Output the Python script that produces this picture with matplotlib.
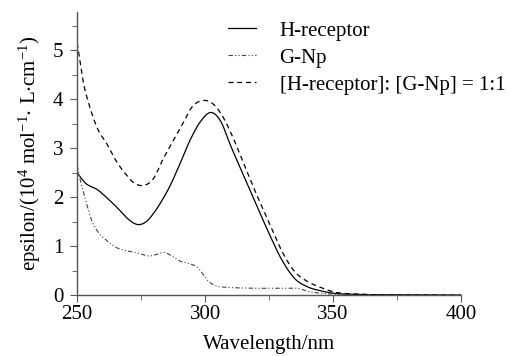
import numpy as np
import matplotlib
matplotlib.use("Agg")
import matplotlib.pyplot as plt
from matplotlib.ticker import MultipleLocator

plt.rcParams['font.family'] = ['Liberation Serif', 'DejaVu Serif']
plt.rcParams['mathtext.fontset'] = 'custom'
plt.rcParams['mathtext.rm'] = 'Liberation Serif'
plt.rcParams['mathtext.default'] = 'regular'

# H-receptor (solid)
wl_h = [250, 253, 258, 262, 266.7, 270, 274, 277, 280, 283, 286, 290, 294, 298, 302.5,
        306, 310, 315, 320, 325, 330, 335, 340, 345, 350, 360, 380, 400]
eps_h = [2.5, 2.3, 2.15, 1.97, 1.73, 1.55, 1.44, 1.5, 1.68, 1.92, 2.2, 2.66, 3.15, 3.53, 3.73,
         3.56, 3.05, 2.45, 1.85, 1.26, 0.72, 0.34, 0.17, 0.09, 0.04, 0.015, 0.005, 0.0]

# G-Np (dash-dot-dot)
wl_g = [250, 251, 253, 255.5, 258, 261.5, 265, 268, 272, 275, 278, 281, 284, 287,
        290, 294, 297, 299, 301, 303, 305, 308, 312, 320, 330, 337, 340, 345, 350, 370, 400]
eps_g = [2.65, 2.4, 2.0, 1.55, 1.3, 1.12, 0.98, 0.92, 0.88, 0.84, 0.8, 0.83, 0.87, 0.8,
         0.7, 0.64, 0.57, 0.44, 0.3, 0.22, 0.18, 0.16, 0.15, 0.14, 0.14, 0.13, 0.08, 0.04, 0.02, 0.01, 0.0]

# [H-receptor]:[G-Np] = 1:1 (dashed)
wl_m = [250, 251.3, 252.6, 254.6, 257.8, 261.7, 265.6, 269, 272, 275.8, 279.7, 283.6, 287.5,
        291.4, 294.7, 298.6, 303, 306.4, 310.3, 315, 320, 325, 330, 335, 340, 345, 350, 360, 380, 400]
eps_m = [5.15, 4.71, 4.3, 3.9, 3.42, 3.08, 2.71, 2.47, 2.3, 2.24, 2.37, 2.78, 3.15,
         3.51, 3.83, 3.97, 3.91, 3.69, 3.29, 2.7, 2.07, 1.48, 0.9, 0.48, 0.28, 0.16, 0.07, 0.02, 0.005, 0.0]

labels = ['H-receptor', 'G-Np', '[H-receptor]: [G-Np] = 1:1']


def smooth(x, y, n=600):
    # cubic Hermite through the read points
    xs = np.linspace(x[0], x[-1], n)
    x = np.asarray(x, float)
    y = np.asarray(y, float)
    ys = np.empty_like(xs)
    m = np.gradient(y, x)
    for k, xv in enumerate(xs):
        i = min(np.searchsorted(x, xv, side='right') - 1, len(x) - 2)
        h = x[i + 1] - x[i]
        t = (xv - x[i]) / h
        h00 = 2 * t**3 - 3 * t**2 + 1
        h10 = t**3 - 2 * t**2 + t
        h01 = -2 * t**3 + 3 * t**2
        h11 = t**3 - t**2
        ys[k] = h00 * y[i] + h10 * h * m[i] + h01 * y[i + 1] + h11 * h * m[i + 1]
    return xs, np.clip(ys, 0, None)


fig = plt.figure(figsize=(5.11, 3.56), dpi=100)
ax = fig.add_axes([0.151, 0.171, 0.751, 0.795])

x, y = smooth(wl_h, eps_h)
ax.plot(x, y, color='black', lw=0.9, label=labels[0])
x, y = smooth(wl_g, eps_g)
ax.plot(x, y, color='#444444', lw=0.8, linestyle=(0, (4, 2, 1, 2, 1, 2)), label=labels[1])
x, y = smooth(wl_m, eps_m)
ax.plot(x, y, color='black', lw=0.9, linestyle=(0, (4, 3)), label=labels[2])

ax.set_xlim(250, 400)
ax.set_ylim(0, 5.78)
ax.xaxis.set_major_locator(MultipleLocator(50))
ax.xaxis.set_minor_locator(MultipleLocator(25))
ax.yaxis.set_major_locator(MultipleLocator(1))
ax.yaxis.set_minor_locator(MultipleLocator(0.5))

for s in ['top', 'right']:
    ax.spines[s].set_visible(False)
for s in ['left', 'bottom']:
    ax.spines[s].set_color('#555555')
    ax.spines[s].set_linewidth(1.0)

ax.tick_params(which='both', direction='out', color='#555555', labelsize=15)
ax.tick_params(which='major', length=5)
ax.tick_params(which='minor', length=3.5)
ax.tick_params(axis='x', pad=2)
ax.tick_params(axis='y', pad=5)

ax.set_xlabel('Wavelength/nm', fontsize=15, labelpad=8)
ax.set_ylabel(r'epsilon/(10$^{4}$ mol$^{-1}$$\cdot$ L$\cdot$cm$^{-1}$)', fontsize=15, labelpad=7)

ax.legend(loc='upper right', bbox_to_anchor=(1.148, 1.012), frameon=False, fontsize=15,
          handlelength=1.35, handletextpad=1.15, labelspacing=0.35, borderaxespad=0.2)

fig.savefig('out.png', dpi=100)
